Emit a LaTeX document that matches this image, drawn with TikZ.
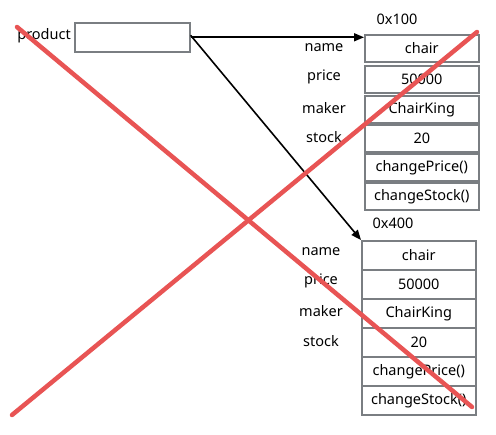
\documentclass[tikz,border=0pt]{standalone}
\usepackage{fontspec}
\setmainfont{Noto Sans}
\usetikzlibrary{arrows.meta}
\definecolor{boxgray}{HTML}{7A7E82}
\definecolor{xred}{HTML}{E85454}
\tikzset{
  cell/.style={draw=boxgray, line width=1.6pt, minimum width=114pt, minimum height=27pt, inner sep=0pt, anchor=north west, font=\fontsize{14.5}{16}\selectfont},
  lbl/.style={font=\fontsize{14.5}{16}\selectfont, inner sep=0pt},
  ptr/.style={line width=1.6pt, -{Triangle[length=10pt,width=8pt]}},
  cross/.style={xred, line width=4.5pt, line cap=round}
}
\begin{document}
\begin{tikzpicture}[x=1pt,y=-1pt]
\useasboundingbox (0,0) rectangle (496,435);
% product
\node[draw=boxgray, line width=1.6pt, minimum width=115pt, minimum height=29pt, inner sep=0pt, anchor=north west] (prod) at (74,22) {};
\node[lbl, anchor=east] (plbl) at (71,36) {product};
% object 1
\node[lbl] (addr1) at (397,19) {0x100};
\node[cell] (a1) at (364,34) {chair};
\node[cell] (a2) at (364,65) {50000};
\node[cell] (a3) at (364,95) {ChairKing};
\node[cell] (a4) at (364,124) {20};
\node[cell] (a5) at (364,153) {changePrice()};
\node[cell] (a6) at (364,182) {changeStock()};
\node[lbl] (n1) at (324,48) {name};
\node[lbl] (n2) at (324,77) {price};
\node[lbl] (n3) at (324,108) {maker};
\node[lbl] (n4) at (324,137) {stock};
% object 2
\node[lbl] (addr2) at (393,223) {0x400};
\node[cell, minimum height=29pt] (b1) at (361,240) {chair};
\node[cell, minimum height=29pt] (b2) at (361,269) {50000};
\node[cell, minimum height=29pt] (b3) at (361,298) {ChairKing};
\node[cell, minimum height=29pt] (b4) at (361,327) {20};
\node[cell, minimum height=29pt] (b5) at (361,356) {changePrice()};
\node[cell, minimum height=29pt] (b6) at (361,385) {changeStock()};
\node[lbl] (m1) at (321,252) {name};
\node[lbl] (m2) at (321,281) {price};
\node[lbl] (m3) at (321,311) {maker};
\node[lbl] (m4) at (321,341) {stock};
% pointers
\draw[ptr] (prod.east) -- (prod.east -| a1.west);
\draw[ptr] ([yshift=2pt]prod.east) -- (b1.north west);
% cross
\coordinate (c1) at (17,27);
\coordinate (c2) at (472,407);
\coordinate (c3) at (12,415);
\coordinate (c4) at (477,32);
\draw[cross] (c1) -- (c2);
\draw[cross] (c3) -- (c4);
\end{tikzpicture}
\end{document}
